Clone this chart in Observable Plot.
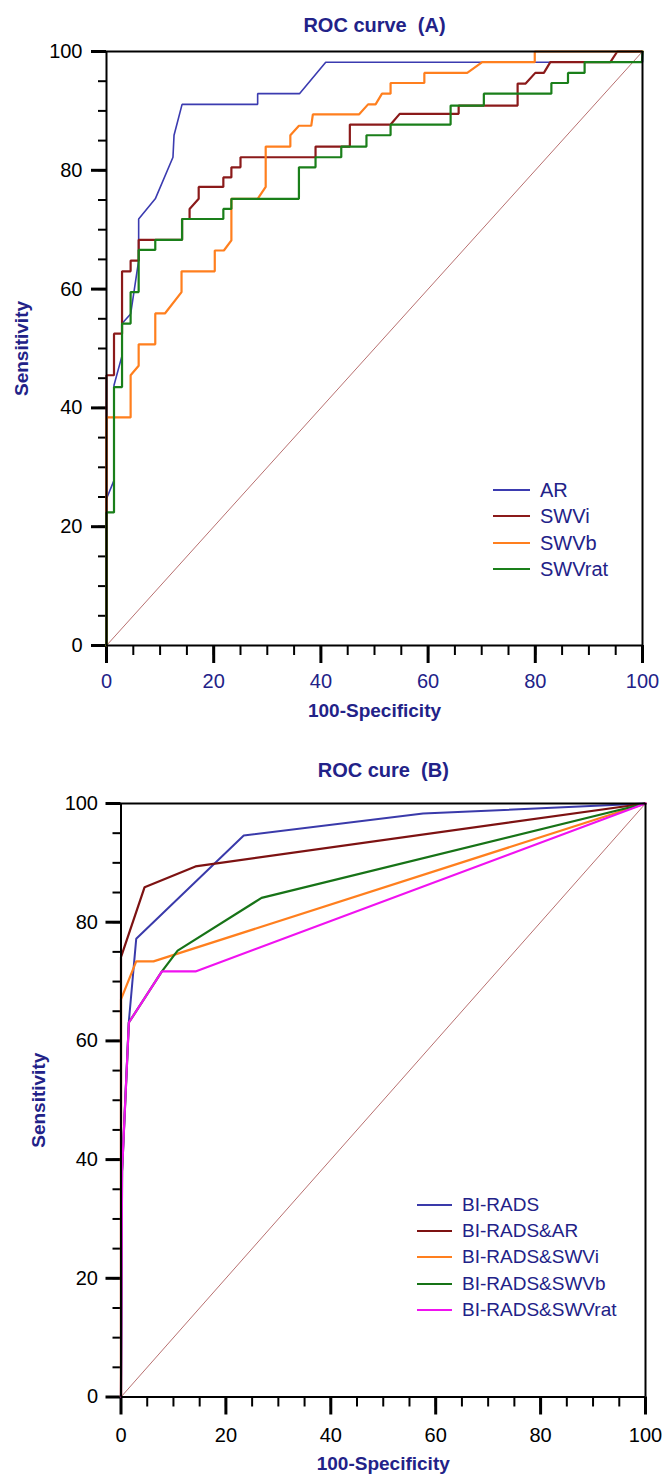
<!DOCTYPE html>
<html>
<head>
<meta charset="utf-8">
<script src="https://cdn.jsdelivr.net/npm/d3@7"></script>
<script src="https://cdn.jsdelivr.net/npm/@observablehq/plot@0.6"></script>
<style>
  body { margin: 0; background: #fff; font-family: "Liberation Sans", Arial, sans-serif; }
  #wrap { position: relative; width: 662px; height: 1479px; overflow: hidden; }
  .panel { position: absolute; left: 0; width: 662px; }
  .legend { position: absolute; color: #222288; font-family: "Liberation Sans", Arial, sans-serif; }
  .legend .row { position: absolute; left: 0; white-space: nowrap; height: 24px; }
  .legend .sw { position: absolute; height: 2px; }
  .legend .lab { position: absolute; line-height: 24px; top: 0; }
</style>
</head>
<body>
<div id="wrap"></div>
<script>
// ---------- data ----------
const majorTicks = [0, 20, 40, 60, 80, 100];
const minorTicks = [0, 5, 10, 15, 20, 25, 30, 35, 40, 45, 50, 55, 60, 65, 70, 75, 80, 85, 90, 95, 100];
const diagonal = [0, 100];

// Panel A: ROC curve (A)  [100-Specificity, Sensitivity]
const titleA = "ROC curve  (A)";
const seriesNamesA = ["AR", "SWVi", "SWVb", "SWVrat"];
const colorsA = ["#3b3bb0", "#8b1a1a", "#ff7f1e", "#1a7f1a"];
const rocAR = [[0,0],[0,24.7],[1.4,27.8],[1.4,43.8],[2.9,48.8],[2.9,54.2],[4.5,55.8],[6.0,64.8],[6.0,71.8],[9.1,75.2],[12.4,82.2],[12.6,85.9],[14.1,91.1],[28.2,91.1],[28.2,92.9],[36.0,92.9],[40.9,98.2],[100,98.2],[100,100]];
const rocSWVi = [[0,0],[0,45.5],[1.4,45.5],[1.4,52.5],[2.9,52.5],[2.9,63.0],[4.5,63.0],[4.5,64.8],[6.0,64.8],[6.0,68.3],[14.1,68.3],[14.1,71.8],[15.5,71.8],[15.5,73.5],[17.2,75.2],[17.2,77.2],[21.8,77.2],[21.8,78.8],[23.3,78.8],[23.3,80.5],[25.0,80.5],[25.0,82.2],[39.0,82.2],[39.0,84.0],[45.4,84.0],[45.4,87.7],[53.0,87.7],[54.7,89.5],[65.7,89.5],[65.7,90.9],[76.7,90.9],[76.7,94.6],[78.2,94.6],[80.0,96.4],[81.6,96.4],[82.8,98.2],[94.0,98.2],[95.3,100],[100,100]];
const rocSWVb = [[0,0],[0,38.4],[4.5,38.4],[4.5,45.5],[6.0,47.1],[6.0,50.7],[9.1,50.7],[9.1,55.9],[10.9,55.9],[14.0,59.5],[14.0,63.0],[20.2,63.0],[20.2,66.5],[21.9,66.5],[23.3,68.2],[23.3,75.2],[28.2,75.2],[29.7,77.2],[29.7,84.0],[34.3,84.0],[34.3,85.9],[35.9,87.5],[38.2,87.5],[38.5,89.4],[47.1,89.4],[48.8,91.1],[50.2,91.1],[51.4,92.9],[53.0,92.9],[53.0,94.7],[59.3,94.7],[59.3,96.4],[67.3,96.4],[70.1,98.2],[79.9,98.2],[79.9,100],[100,100]];
const rocSWVrat = [[0,0],[0,22.4],[1.4,22.4],[1.4,43.5],[2.9,43.5],[2.9,54.2],[4.5,54.2],[4.5,59.5],[6.0,59.5],[6.0,66.6],[9.1,66.6],[9.1,68.3],[14.1,68.3],[14.1,71.8],[21.8,71.8],[21.8,73.5],[23.3,73.5],[23.3,75.2],[35.9,75.2],[35.9,80.5],[39.0,80.5],[39.0,82.2],[43.8,82.2],[43.8,84.0],[48.5,84.0],[48.5,85.9],[53.0,85.9],[53.0,87.7],[64.2,87.7],[64.2,90.9],[70.4,90.9],[70.4,92.9],[83.0,92.9],[83.0,94.7],[86.1,94.7],[86.1,96.4],[89.2,96.4],[89.2,98.2],[99.9,98.2],[100,100]];

// Panel B: ROC cure (B)
const titleB = "ROC cure  (B)";
const seriesNamesB = ["BI-RADS", "BI-RADS&AR", "BI-RADS&SWVi", "BI-RADS&SWVb", "BI-RADS&SWVrat"];
const colorsB = ["#3a3aaa", "#7d1212", "#ff7f1e", "#177317", "#f012f0"];
const rocBIRADS = [[0,0],[0.2,38],[1.5,63.3],[2.9,77.2],[23.4,94.6],[57.6,98.3],[100,100]];
const rocBIRADS_AR = [[0,0],[0,74.1],[4.5,85.9],[14.2,89.4],[100,100]];
const rocBIRADS_SWVi = [[0,0],[0,67.0],[2.9,73.4],[6.2,73.4],[100,100]];
const rocBIRADS_SWVb = [[0,0],[0.2,38],[1.5,63.1],[7.8,71.7],[10.8,75.2],[26.8,84.1],[100,100]];
const rocBIRADS_SWVrat = [[0,0],[0.2,38],[1.5,63.1],[7.8,71.7],[14.2,71.7],[100,100]];

const xTitle = "100-Specificity";
const yTitle = "Sensitivity";

// ---------- drawing ----------
const NAVY = "#222288";
const FONT = "Liberation Sans, Arial, sans-serif";

function panel(cfg) {
  const lines = cfg.series.map((s, i) =>
    Plot.line(s, {x: d => d[0], y: d => d[1], stroke: cfg.colors[i], strokeWidth: cfg.widths[i], strokeLinejoin: "miter"})
  );
  return Plot.plot({
    width: 662,
    height: cfg.height,
    marginTop: cfg.mt, marginRight: cfg.mr, marginBottom: cfg.mb, marginLeft: cfg.ml,
    x: {domain: [0, 100]},
    y: {domain: [0, 100]},
    style: {fontFamily: FONT, background: "transparent", overflow: "visible"},
    marks: [
      Plot.line(diagonal, {x: d => d, y: d => d, stroke: "#b87070", strokeWidth: 1}),
      Plot.axisY(minorTicks, {tickSize: 8, strokeWidth: 2, stroke: "black", tickFormat: () => "", label: null}),
      Plot.axisY(majorTicks, {tickSize: 15, strokeWidth: 3, stroke: "black", tickPadding: cfg.ypad, fontSize: 20, fill: "black", label: null}),
      Plot.axisX(minorTicks, {tickSize: 10, strokeWidth: 2, stroke: "black", tickFormat: () => "", label: null}),
      Plot.axisX(majorTicks, {tickSize: 18, strokeWidth: 3, stroke: "black", tickPadding: cfg.xpad, fontSize: 20, fill: cfg.xLabelColor, label: null}),
      ...lines,
      Plot.ruleX([0], {stroke: "black", strokeWidth: 2}),
      Plot.ruleY([0], {stroke: "black", strokeWidth: 2}),
      Plot.ruleX([100], {stroke: "black", strokeWidth: 2}),
      Plot.ruleY([100], {stroke: "black", strokeWidth: 2}),
      Plot.text([cfg.title], {frameAnchor: "top", dy: cfg.titleDy, textAnchor: "middle", lineAnchor: "middle", fontSize: 20, fontWeight: "bold", fill: NAVY}),
      Plot.text([xTitle], {frameAnchor: "bottom", dy: cfg.xTitleDy, textAnchor: "middle", lineAnchor: "middle", fontSize: 19, fontWeight: "bold", fill: NAVY}),
      Plot.text([yTitle], {frameAnchor: "left", dx: cfg.yTitleDx, rotate: -90, textAnchor: "middle", lineAnchor: "middle", fontSize: 19, fontWeight: "bold", fill: NAVY})
    ]
  });
}

function legend(names, colors, cfg) {
  const div = document.createElement("div");
  div.className = "legend";
  div.style.left = cfg.left + "px";
  div.style.top = cfg.top + "px";
  div.style.fontSize = cfg.fontSize + "px";
  names.forEach((n, i) => {
    const row = document.createElement("div");
    row.className = "row";
    row.style.top = (i * cfg.step - 12) + "px";
    const sw = document.createElement("div");
    sw.className = "sw";
    sw.style.left = "0px";
    sw.style.width = cfg.lineLen + "px";
    sw.style.top = "11px";
    sw.style.background = colors[i];
    const lab = document.createElement("div");
    lab.className = "lab";
    lab.style.left = cfg.textOffset + "px";
    lab.textContent = n;
    row.appendChild(sw);
    row.appendChild(lab);
    div.appendChild(row);
  });
  return div;
}

const wrap = document.getElementById("wrap");

const pA = document.createElement("div");
pA.className = "panel";
pA.style.top = "0px";
pA.appendChild(panel({
  height: 740, mt: 51, mr: 20, mb: 95, ml: 106,
  series: [rocAR, rocSWVi, rocSWVb, rocSWVrat],
  colors: colorsA, widths: [1.6, 2.2, 2.2, 2.2],
  ypad: 9, xpad: 10, xLabelColor: NAVY,
  title: titleA, titleDy: -26, xTitleDy: 65, yTitleDx: -85
}));
wrap.appendChild(pA);
wrap.appendChild(legend(seriesNamesA, colorsA, {left: 493, top: 490, step: 26.4, lineLen: 37, textOffset: 47, fontSize: 20}));

const pB = document.createElement("div");
pB.className = "panel";
pB.style.top = "740px";
pB.appendChild(panel({
  height: 739, mt: 63, mr: 17, mb: 82.5, ml: 120.5,
  series: [rocBIRADS, rocBIRADS_AR, rocBIRADS_SWVi, rocBIRADS_SWVb, rocBIRADS_SWVrat],
  colors: colorsB, widths: [2, 2.2, 2.2, 2.2, 2.2],
  ypad: 8, xpad: 12.5, xLabelColor: "black",
  title: titleB, titleDy: -32.5, xTitleDy: 67, yTitleDx: -82.5
}));
wrap.appendChild(pB);
wrap.appendChild(legend(seriesNamesB, colorsB, {left: 417, top: 1205, step: 26.2, lineLen: 35, textOffset: 45, fontSize: 19}));
</script>
</body>
</html>
